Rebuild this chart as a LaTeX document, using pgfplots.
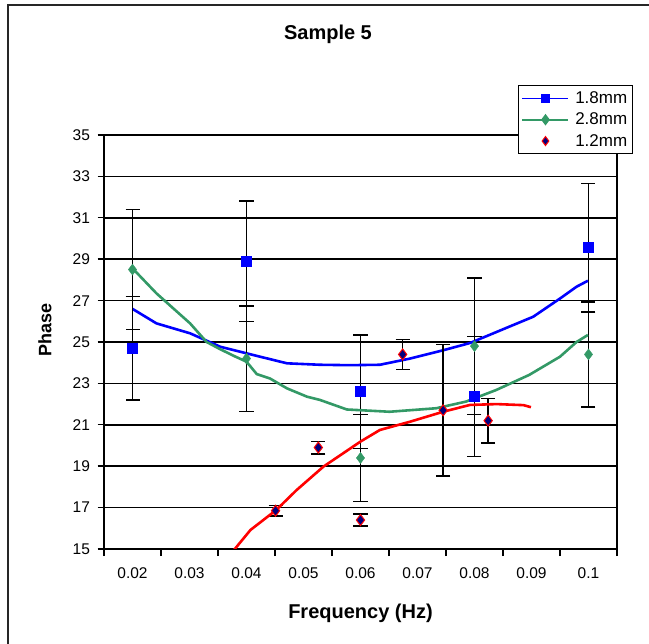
\documentclass[border=0pt]{standalone}
\usepackage{pgfplots}
\pgfplotsset{compat=1.18}
\usepackage{fontspec}
\setmainfont{Liberation Sans}
\definecolor{xlblue}{RGB}{0,0,255}
\definecolor{xlgreen}{RGB}{51,153,102}
\definecolor{xlnavy}{RGB}{0,0,128}
\definecolor{xlred}{RGB}{255,0,0}

% measured points with error bars
\pgfplotstableread{
x      y      e
0.020  24.70  2.50
0.040  28.90  2.90
0.060  22.60  2.75
0.080  22.36  2.90
0.100  29.56  3.10
}\thinA
\pgfplotstableread{
x      y      e
0.020  28.50  2.90
0.040  24.20  2.55
0.060  19.40  2.10
0.080  24.80  3.30
0.100  24.40  2.54
}\thinB
\pgfplotstableread{
x       y      e
0.0451  16.85  0.25
0.0526  19.90  0.30
0.0600  16.40  0.30
0.0674  24.40  0.72
0.0745  21.70  3.17
0.0824  21.20  1.07
}\thinC

\begin{document}
\begin{tikzpicture}
\useasboundingbox (0bp,0bp) rectangle (649bp,644bp);
\draw[black!85, line width=1.6bp] (8bp,-10bp) -- (8bp,639bp) -- (660bp,639bp);

\begin{axis}[
  at={(104bp,95bp)}, anchor=south west,
  scale only axis, width=513bp, height=414bp,
  xmin=0.015, xmax=0.105, ymin=15, ymax=35,
  xtick={0.015,0.025,0.035,0.045,0.055,0.065,0.075,0.085,0.095,0.105},
  xticklabels={0.02,0.03,0.04,0.05,0.06,0.07,0.08,0.09,0.1,{}},
  ytick={15,17,...,35},
  xtick pos=bottom, ytick pos=left,
  xtick align=outside, ytick align=center,
  major tick length=13bp,
  xtick style={/pgfplots/major tick length=7bp},
  tick style={black, line width=1.4bp},
  axis line style={black, line width=1.5bp},
  ymajorgrids, major grid style={black, line width=1.5bp},
  /pgf/number format/assume math mode=true,
  tick label style={font=\fontsize{15.5bp}{18bp}\selectfont},
  xticklabel style={xshift=28.5bp, yshift=-2bp},
  yticklabel style={xshift=-4bp},
  title={Sample 5},
  title style={font=\bfseries\fontsize{20bp}{24bp}\selectfont,
    at={(axis description cs:0.4366,1.2295)}, anchor=center},
  xlabel={Frequency (Hz)},
  xlabel style={font=\bfseries\fontsize{20bp}{24bp}\selectfont,
    at={(axis description cs:0.5,-0.1546)}, anchor=center},
  ylabel={Phase},
  ylabel style={font=\bfseries\fontsize{18bp}{22bp}\selectfont,
    at={(axis description cs:-0.115,0.529)}, anchor=center},
  legend style={at={(axis description cs:0.807,1.1208)}, anchor=north west,
    draw=black, line width=1.4bp, fill=white,
    font=\fontsize{17bp}{20bp}\selectfont,
    inner xsep=3bp, inner ysep=4bp, row sep=4bp,
    /tikz/every odd column/.style={column sep=4bp},
    legend cell align=left},
  legend image code/.code={\draw[mark repeat=2,mark phase=2,#1] plot coordinates {(0bp,0bp) (23bp,0bp) (46bp,0bp)};},
  error bars/error bar style={black, line width=1.5bp},
  error bars/error mark options={black, rotate=90, mark size=7bp, line width=1.5bp},
]

% 1.8mm
\addplot[forget plot, only marks, mark=square*, mark size=5bp, color=xlblue,
  error bars/.cd, y dir=both, y explicit]
  table[x=x, y=y, y error=e] {\thinA};
\addplot[forget plot, xlblue, line width=2.6bp] coordinates {
  (0.0200,26.60) (0.0242,25.90) (0.0301,25.42) (0.0354,24.77) (0.0412,24.37)
  (0.0471,23.97) (0.0529,23.90) (0.0580,23.88) (0.0634,23.90) (0.0687,24.20)
  (0.0745,24.60) (0.0792,24.95) (0.0827,25.35) (0.0868,25.82) (0.0903,26.22)
  (0.0950,27.10) (0.0979,27.67) (0.0999,27.96)
};

% 2.8mm
\addplot[forget plot, only marks, mark=diamond*, mark size=5.5bp, color=xlgreen,
  error bars/.cd, y dir=both, y explicit]
  table[x=x, y=y, y error=e] {\thinB};
\addplot[forget plot, xlgreen, line width=2.6bp] coordinates {
  (0.0200,28.56) (0.0242,27.35) (0.0301,25.90) (0.0330,25.00) (0.0354,24.65)
  (0.0380,24.30) (0.0400,24.05) (0.0418,23.45) (0.0441,23.24) (0.0471,22.76)
  (0.0506,22.36) (0.0529,22.20) (0.0576,21.74) (0.0651,21.63) (0.0733,21.80)
  (0.0785,22.12) (0.0838,22.68) (0.0896,23.41) (0.0950,24.29) (0.0979,25.00)
  (0.0999,25.34)
};

% 1.2mm
\addplot[forget plot, only marks, mark=diamond*, mark size=5.5bp,
  mark options={fill=xlnavy, draw=xlred, line width=1bp},
  error bars/.cd, y dir=both, y explicit]
  table[x=x, y=y, y error=e] {\thinC};
\addplot[forget plot, xlred, line width=2.6bp] coordinates {
  (0.0370,14.50) (0.0378,14.95) (0.0407,15.92) (0.0452,16.88) (0.0488,17.85)
  (0.0535,18.98) (0.0600,20.19) (0.0634,20.75) (0.0687,21.15) (0.0745,21.63)
  (0.0792,21.96) (0.0839,22.00) (0.0886,21.95) (0.0899,21.85)
};

\addlegendimage{xlblue, line width=1.6bp, mark=square*, mark size=4bp}
\addlegendentry{1.8mm}
\addlegendimage{xlgreen, line width=1.6bp, mark=diamond*, mark size=4.5bp}
\addlegendentry{2.8mm}
\addlegendimage{only marks, mark=diamond*, mark size=4.5bp, mark options={fill=xlnavy, draw=xlred, line width=1bp}}
\addlegendentry{1.2mm}

\end{axis}
\end{tikzpicture}
\end{document}
